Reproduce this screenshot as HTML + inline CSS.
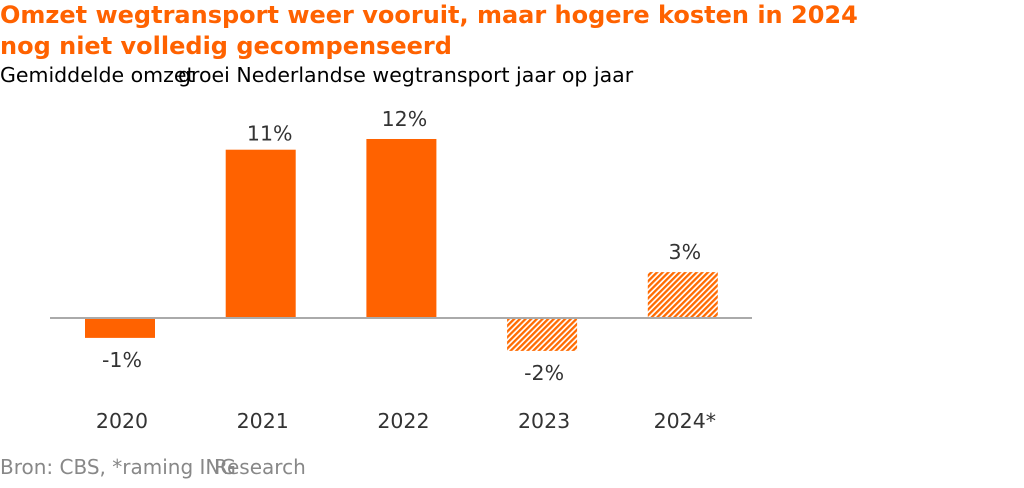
<!DOCTYPE html>
<html><head><meta charset="utf-8"><style>
body{margin:0;width:1024px;height:488px;background:#fff;overflow:hidden;font-family:"DejaVu Sans","Liberation Sans",sans-serif;}
svg{position:absolute;left:0;top:0}
</style></head><body>
<svg width="1024" height="488">
<defs>
<pattern id="hatch" patternUnits="userSpaceOnUse" width="4" height="4" patternTransform="rotate(45)">
<rect width="4" height="4" fill="#fff"/>
<rect width="2.3" height="4" fill="#ff6a00"/>
</pattern>
</defs>
<text x="0" y="23" font-size="24" font-weight="bold" fill="#ff6200">Omzet wegtransport weer vooruit, maar hogere kosten in 2024</text>
<text x="0" y="54" font-size="24" font-weight="bold" fill="#ff6200">nog niet volledig gecompenseerd</text>
<text x="0" y="82" font-size="20.5" fill="#000">Gemiddelde omzet</text>
<text x="178" y="82" font-size="20.5" fill="#000">groei Nederlandse wegtransport jaar op jaar</text>
<g id="bars"></g>
<line x1="50" x2="752" y1="318" y2="318" stroke="#aaa" stroke-width="2"/>
<text x="0" y="474" font-size="20" fill="#888">Bron: CBS, *raming ING</text>
<text x="214" y="474" font-size="20" fill="#888">Research</text>
</svg>
<script>
const categories=["2020","2021","2022","2023","2024*"];
const values=[-1.3,11,11.7,-2.15,3];
const labels=["-1%","11%","12%","-2%","3%"];
const hatched=[false,false,false,true,true];
const y0=318, pxPer=15.3;
function y(v){return y0-v*pxPer;}
function xc(i){return 120+i*140.7;}
const g=document.getElementById('bars');
const NS="http://www.w3.org/2000/svg";
categories.forEach((c,i)=>{
  const v=values[i];
  const r=document.createElementNS(NS,'rect');
  
  
  r.setAttribute('x',xc(i)-35);r.setAttribute('width',70);
  r.setAttribute('y',Math.min(y(v),y0));r.setAttribute('height',Math.abs(y(v)-y0));
  r.setAttribute('fill',hatched[i]?'url(#hatch)':'#ff6200');
  g.appendChild(r);
  const t=document.createElementNS(NS,'text');
  
  
  t.setAttribute('x',xc(i)+(i===1?9:(i===2?3:2)));
  t.setAttribute('y',v>=0?y(v)-(i===1?9:13):y(v)+29);
  t.setAttribute('text-anchor','middle');t.setAttribute('font-size','20.5');t.setAttribute('fill','#333');
  t.textContent=labels[i];g.appendChild(t);
  const l=document.createElementNS(NS,'text');
  
  
  l.setAttribute('x',xc(i)+2);l.setAttribute('y',428);
  l.setAttribute('text-anchor','middle');l.setAttribute('font-size','20.5');l.setAttribute('fill','#333');
  l.textContent=c;g.appendChild(l);
});
</script>
</body></html>
